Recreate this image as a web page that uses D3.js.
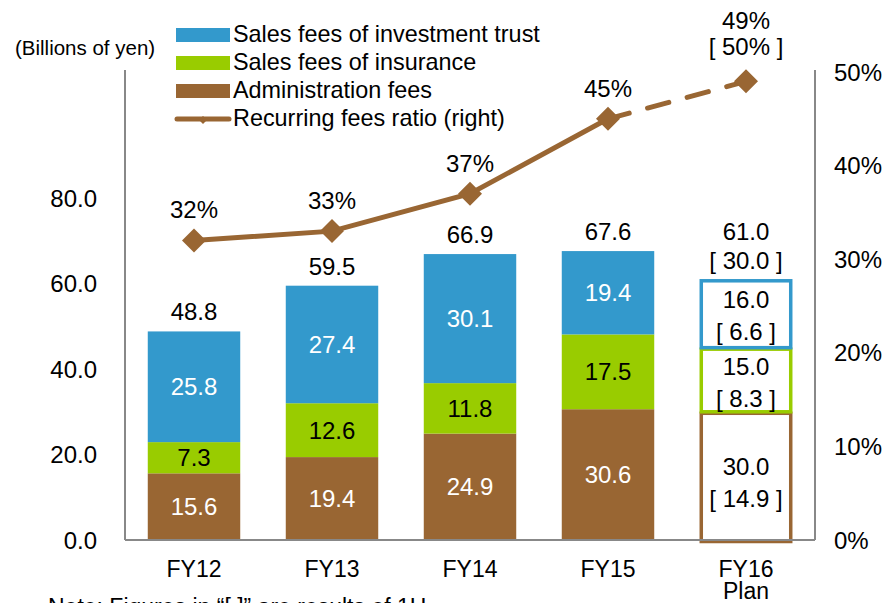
<!DOCTYPE html>
<meta charset="utf-8">
<title>Recurring fees</title>
<style>
body { margin: 0; background: #fff; }
text { font-family: "Liberation Sans", Arial, sans-serif; fill: #000; }
</style>
<script src="https://d3js.org/d3.v7.min.js"></script>
<body>
<script>
var width = 885, height = 603;

// data
var years = ["FY12", "FY13", "FY14", "FY15", "FY16"];
var admin = [15.6, 19.4, 24.9, 30.6, 30.0];
var insurance = [7.3, 12.6, 11.8, 17.5, 15.0];
var invest = [25.8, 27.4, 30.1, 19.4, 16.0];
var totals = [48.8, 59.5, 66.9, 67.6, 61.0];
var ratio = [0.32, 0.33, 0.37, 0.45, 0.49];
// FY16 first half results shown in brackets
var h1Admin = 14.9, h1Ins = 8.3, h1Inv = 6.6, h1Total = 30.0, h1Ratio = "50%";
var leftTicks = [0, 20, 40, 60, 80];
var rightTicks = [0, 0.1, 0.2, 0.3, 0.4, 0.5];
var seriesNames = ["Sales fees of investment trust", "Sales fees of insurance", "Administration fees", "Recurring fees ratio (right)"];

var colInv = "#3399cc", colIns = "#99cc00", colAdm = "#996633";

var svg = d3.select("body").append("svg")
    .attr("width", width)
    .attr("height", height);

var x = d3.scaleBand().domain(years).range([125, 815]).paddingInner(0.33).paddingOuter(0.165);
var y = d3.scaleLinear().domain([0, 109.5]).range([540, 72]);
var y2 = d3.scaleLinear().domain([0, 0.5]).range([540, 72]);

// axes lines
svg.append("line").attr("x1", 125).attr("x2", 125).attr("y1", 70).attr("y2", 540)
  .attr("stroke", "#888").attr("stroke-width", 2);
svg.append("line").attr("x1", 815).attr("x2", 815).attr("y1", 70).attr("y2", 540)
  .attr("stroke", "#888").attr("stroke-width", 2);

// tick labels
svg.selectAll("text.lt").data(leftTicks).enter().append("text")
  .attr("class", "lt")
  .attr("x", 97).attr("y", function(d) { return y(d) + 8.5; })
  .attr("text-anchor", "end").style("font-size", "24px")
  .text(function(d) { return d3.format(".1f")(d); });
svg.selectAll("text.rt").data(rightTicks).enter().append("text")
  .attr("class", "rt")
  .attr("x", 834).attr("y", function(d) { return y2(d) + 8.5; })
  .style("font-size", "24px")
  .text(d3.format(".0%"));

svg.append("text").attr("x", 15).attr("y", 55).style("font-size", "20.5px").text("(Billions of yen)");

// stacked bars
var stack = years.map(function(yr, i) {
  return [
    {v: admin[i], y0: 0, y1: admin[i], c: colAdm, tc: "#fff", h1: h1Admin},
    {v: insurance[i], y0: admin[i], y1: admin[i] + insurance[i], c: colIns, tc: "#000", h1: h1Ins},
    {v: invest[i], y0: admin[i] + insurance[i], y1: totals[i], c: colInv, tc: "#fff", h1: h1Inv}
  ].map(function(s) { s.yr = yr; s.plan = (yr == "FY16"); return s; });
});
var segs = d3.merge(stack);

svg.selectAll("rect.seg").data(segs.filter(function(d) { return !d.plan; })).enter().append("rect")
  .attr("class", "seg")
  .attr("x", function(d) { return x(d.yr); })
  .attr("width", x.bandwidth())
  .attr("y", function(d) { return y(d.y1); })
  .attr("height", function(d) { return y(d.y0) - y(d.y1); })
  .attr("fill", function(d) { return d.c; });

var plan = segs.filter(function(d) { return d.plan; });
svg.selectAll("rect.plan").data(plan).enter().append("rect")
  .attr("class", "plan")
  .attr("x", function(d) { return x(d.yr) + 1.5; })
  .attr("width", x.bandwidth() - 3)
  .attr("y", function(d) { return y(d.y1) + 1.5; })
  .attr("height", function(d) { return y(d.y0) - y(d.y1) - (d.y0 == 0 ? 0 : 1.5); })
  .attr("fill", "#fff")
  .attr("stroke", function(d) { return d.c; })
  .attr("stroke-width", 3.5);

// bottom axis line
svg.append("line").attr("x1", 125).attr("x2", 815).attr("y1", 540).attr("y2", 540)
  .attr("stroke", "#888").attr("stroke-width", 2);

svg.selectAll("text.seg").data(segs.filter(function(d) { return !d.plan; })).enter().append("text")
  .attr("class", "seg")
  .attr("x", function(d) { return x(d.yr) + x.bandwidth() / 2; })
  .attr("y", function(d) { return (y(d.y0) + y(d.y1)) / 2 + 8.5; })
  .attr("text-anchor", "middle").style("font-size", "24px")
  .style("fill", function(d) { return d.tc; })
  .text(function(d) { return d.v.toFixed(1); });

plan.forEach(function(d) {
  var cx = x(d.yr) + x.bandwidth() / 2, cy = (y(d.y0) + y(d.y1)) / 2;
  if (d.y0 == 0) cy += 4;
  svg.append("text").attr("x", cx).attr("y", cy - 5).attr("text-anchor", "middle")
    .style("font-size", "24px").text(d.v.toFixed(1));
  svg.append("text").attr("x", cx).attr("y", cy + 27).attr("text-anchor", "middle")
    .style("font-size", "24px").text("[ " + d.h1.toFixed(1) + " ]");
});

// totals
svg.selectAll("text.tot").data(years).enter().append("text")
  .attr("class", "tot")
  .attr("x", function(d) { return x(d) + x.bandwidth() / 2; })
  .attr("y", function(d, i) { return y(totals[i]) - (d == "FY16" ? 39 : 11); })
  .attr("text-anchor", "middle").style("font-size", "24px")
  .text(function(d, i) { return totals[i].toFixed(1); });
svg.append("text").attr("x", x("FY16") + x.bandwidth() / 2).attr("y", y(totals[4]) - 10)
  .attr("text-anchor", "middle").style("font-size", "24px").text("[ " + h1Total.toFixed(1) + " ]");

// ratio line
var cx = function(d, i) { return x(years[i]) + x.bandwidth() / 2; };
var line = d3.line().x(cx).y(function(d) { return y2(d); });
svg.append("path").attr("d", line(ratio.slice(0, 4)))
  .attr("fill", "none").attr("stroke", colAdm).attr("stroke-width", 5);
svg.append("path").datum(ratio.slice(3))
  .attr("d", d3.line().x(function(d, i) { return cx(d, i + 3); }).y(function(d) { return y2(d); }))
  .attr("fill", "none").attr("stroke", colAdm).attr("stroke-width", 5)
  .attr("stroke-dasharray", "22,19").attr("stroke-linecap", "round");
svg.selectAll("path.mk").data(ratio).enter().append("path")
  .attr("class", "mk")
  .attr("d", "M0,-12L12,0L0,12L-12,0Z")
  .attr("transform", function(d, i) { return "translate(" + cx(d, i) + "," + y2(d) + ")"; })
  .attr("fill", colAdm);
svg.selectAll("text.pct").data(ratio).enter().append("text")
  .attr("class", "pct")
  .attr("x", cx)
  .attr("y", function(d, i) { return y2(d) - (i == 4 ? 52 : 22); })
  .attr("text-anchor", "middle").style("font-size", "24px")
  .text(d3.format(".0%"));
svg.append("text").attr("x", cx(0, 4)).attr("y", y2(ratio[4]) - 26)
  .attr("text-anchor", "middle").style("font-size", "24px").text("[ " + h1Ratio + " ]");

// x labels
svg.selectAll("text.xl").data(years).enter().append("text")
  .attr("class", "xl")
  .attr("x", function(d) { return x(d) + x.bandwidth() / 2; })
  .attr("y", 577).attr("text-anchor", "middle").style("font-size", "23px")
  .text(function(d) { return d; });
svg.append("text").attr("x", x("FY16") + x.bandwidth() / 2).attr("y", 599)
  .attr("text-anchor", "middle").style("font-size", "23px").text("Plan");

svg.append("text").attr("x", 48).attr("y", 615).style("font-size", "23px")
  .text("Note: Figures in \u201c[ ]\u201d are results of 1H");

// legend
var lg = svg.append("g");
var lgCols = [colInv, colIns, colAdm];
seriesNames.forEach(function(n, i) {
  var ly = 35 + i * 28;
  if (i < 3) {
    lg.append("rect").attr("x", 176).attr("y", ly - 7).attr("width", 54).attr("height", 14).attr("fill", lgCols[i]);
  } else {
    lg.append("line").attr("x1", 177).attr("x2", 229).attr("y1", ly).attr("y2", ly)
      .attr("stroke", colAdm).attr("stroke-width", 5).attr("stroke-linecap", "round");
    lg.append("path").attr("d", "M0,-4L4,0L0,4L-4,0Z").attr("transform", "translate(203," + (ly + 1) + ")").attr("fill", colAdm);
  }
  lg.append("text").attr("x", 233).attr("y", ly + 7).style("font-size", "23.4px").text(n);
});
</script>
</body>
